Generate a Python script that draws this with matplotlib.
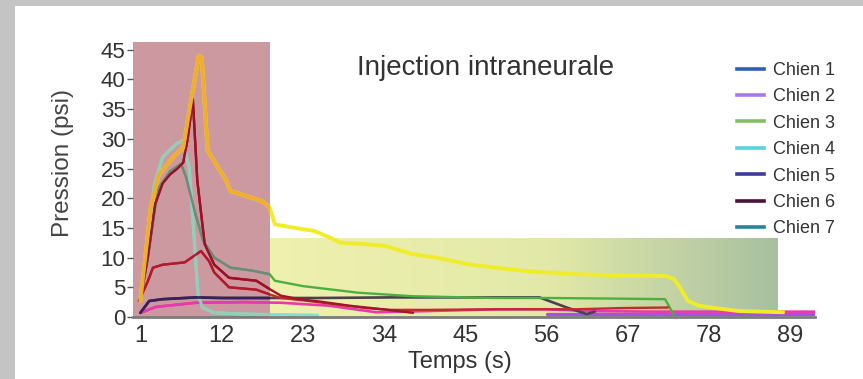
import matplotlib
matplotlib.use("Agg")
import matplotlib.pyplot as plt
import numpy as np
from matplotlib.patches import Rectangle
from matplotlib.lines import Line2D
from matplotlib.colors import LinearSegmentedColormap

plt.rcParams['font.family'] = ['Liberation Sans', 'DejaVu Sans']

# ---------------- data ----------------
title = "Injection intraneurale"
x_label = "Temps (s)"
y_label = "Pression (psi)"
x_ticks = [1, 12, 23, 34, 45, 56, 67, 78, 89]
y_ticks = [0, 5, 10, 15, 20, 25, 30, 35, 40, 45]
legend_labels = ["Chien 1", "Chien 2", "Chien 3", "Chien 4", "Chien 5", "Chien 6", "Chien 7"]
legend_colors = ["#2f5fb0", "#a479ee", "#84c062", "#55d6de", "#3c3c9c", "#4c1238", "#23879a"]

# phase zones (s, psi)
phase1_end = 18.5
phase2_end = 87.2
phase2_top = 13.3

# Chien 1 (dark red spike)
t_c1 = [1, 2, 3, 4, 5, 6, 6.8, 7.4, 8.1, 8.7, 9.7, 11, 13, 16.7, 18.5, 20, 22.5, 25.3, 29.3, 33.8, 37.9]
p_c1 = [3, 10, 19, 22.5, 24, 25, 26, 30, 36.7, 23, 12.3, 8.8, 6.6, 6.1, 4.7, 3.6, 3.0, 2.6, 1.9, 1.3, 0.7]
# Chien 2 (magenta, low)
t_c2 = [1, 3.1, 8.5, 15, 20, 26.6, 30, 32.9, 40, 49, 56, 62, 70, 80, 92.3]
p_c2 = [0.7, 1.7, 2.4, 2.5, 2.4, 1.9, 1.3, 0.8, 1.0, 1.3, 1.3, 1.0, 0.9, 0.9, 0.9]
# Chien 2 tail (violet baseline)
t_c2b = [56, 70, 92.3]
p_c2b = [0.5, 0.5, 0.5]
# Chien 3 (grey -> green)
t_c3 = [1, 2, 3, 3.5, 5, 6.5, 7.2, 8.3, 9.5, 11, 13.2, 16.2, 18.5, 19.2, 23, 30.4, 37.8, 49, 56.4, 65, 72, 73.2]
p_c3 = [2.7, 10, 18.5, 21.8, 24.5, 25.8, 23.5, 18, 12.8, 10, 8.3, 7.8, 7.2, 6.1, 5.2, 4.1, 3.5, 3.2, 3.2, 3.1, 3.0, 0.4]
# Chien 4 (cyan)
t_c4 = [0.9, 2.2, 2.9, 4, 5.8, 6.7, 7.6, 8.3, 8.8, 9.4, 11, 15, 20, 25]
p_c4 = [2.7, 15, 22.4, 26.9, 29.1, 29.7, 25.2, 12.8, 3.8, 1.6, 0.7, 0.5, 0.4, 0.3]
# Chien 5 (dark purple, ~3 psi)
t_c5 = [1, 2.2, 4, 8.5, 12, 17.5, 25, 35, 45, 55, 58.7, 61.4, 62.5]
p_c5 = [0.7, 2.7, 3.0, 3.3, 3.2, 3.2, 3.2, 3.3, 3.3, 3.3, 1.6, 0.5, 0.9]
# Chien 6 (red plateau)
t_c6 = [0.8, 2, 2.7, 4, 7, 9.2, 10.3, 11, 13, 16.7, 18.5, 20, 23, 27, 31.6, 34.7, 40, 50, 60, 66, 72.4]
p_c6 = [2.7, 6, 8.3, 8.8, 9.2, 11.1, 9.4, 7.5, 5.0, 4.6, 3.8, 3.2, 2.8, 2.2, 1.5, 1.2, 1.2, 1.3, 1.3, 1.5, 1.6]
# Chien 7 (yellow, peak 44)
t_c7 = [1, 2.4, 3.5, 5.8, 6.8, 7.8, 8.9, 9.3, 10.1, 12.6, 13.2, 15, 16.2, 17.5, 18.5, 19.2, 21, 22.9, 24.5,
        26.6, 28.1, 31, 34, 37.8, 41, 45.3, 49, 52.7, 56, 60.2, 66, 72.1, 73.2, 74, 75.1, 76.6, 78.8, 82, 88]
p_c7 = [2.7, 18.4, 24, 27.4, 28.5, 36, 44, 43.7, 28, 23, 21.2, 20.5, 20, 19.5, 18.4, 15.6, 15.2, 14.8, 14.5,
        13.4, 12.5, 12.3, 12, 10.6, 10, 8.9, 8.3, 7.8, 7.5, 7.2, 7, 6.9, 6.4, 5, 2.7, 1.9, 1.5, 1.0, 0.8]

# (t, p, colour outside phase 1, colour inside phase 1, width)
series = [
    (t_c2b, p_c2b, "#a452e2", "#a452e2", 2.4),
    (t_c2, p_c2, "#e83aa8", "#e83aa8", 1.9),
    (t_c4, p_c4, "#7ee2cc", "#96ccb8", 2.2),
    (t_c5, p_c5, "#4a4050", "#3a1f58", 1.9),
    (t_c3, p_c3, "#4cb040", "#6e8a7c", 1.7),
    (t_c6, p_c6, "#c52a2c", "#b3182e", 1.7),
    (t_c1, p_c1, "#a01828", "#9a1024", 1.7),
    (t_c7, p_c7, "#f0ec2a", "#f0ae2e", 2.8),
]

# ---------------- figure ----------------
W, H = 863, 379
fig = plt.figure(figsize=(W / 100, H / 100), dpi=100)
fig.patch.set_facecolor("#c4c4c4")
fig.add_artist(Rectangle((15 / W, 0), 1, 1 - 6 / H, transform=fig.transFigure,
                         facecolor="white", edgecolor="none", zorder=-5))

ax = fig.add_axes([133 / W, 1 - 317 / H, (815 - 133) / W, (317 - 42) / H])
ax.set_facecolor("none")
xmin, xmax = 0, 92.3
ymin, ymax = 0, 46.3

pink = Rectangle((xmin, ymin), phase1_end - xmin, ymax - ymin, facecolor="#cc99a0",
                 edgecolor="none", zorder=0.5)
ax.add_patch(pink)

cmap = LinearSegmentedColormap.from_list("phase2", [(0, "#eff1ae"), (0.55, "#e2e9a8"), (1.0, "#a8c0a0")])
grad = np.linspace(0, 1, 256).reshape(1, -1)
ax.imshow(grad, cmap=cmap, extent=[phase1_end, phase2_end, 0, phase2_top], aspect="auto",
          zorder=0.5, interpolation="bilinear")

for t, p, c_out, c_in, lw in series:
    ax.plot(t, p, color=c_out, lw=lw, zorder=2, solid_capstyle="round")
    ln, = ax.plot(t, p, color=c_in, lw=lw, zorder=2.1, solid_capstyle="round")
    ln.set_clip_path(pink)

ax.set_xlim(xmin, xmax)
ax.set_ylim(ymin, ymax)
ax.set_xticks(x_ticks)
ax.set_yticks(y_ticks)
for s in ["top", "right", "left"]:
    ax.spines[s].set_visible(False)
ax.spines["bottom"].set_color("#7c7c7c")
ax.spines["bottom"].set_linewidth(2.0)
ax.spines["bottom"].set_zorder(3)
ax.tick_params(axis="x", length=0, pad=6, labelsize=17, labelcolor="#333333")
ax.tick_params(axis="y", length=4.5, width=1, pad=1, color="#555555", labelsize=16, labelcolor="#333333")

fig.text(486 / W, 1 - 68 / H, title, ha="center", va="center", fontsize=20, color="#333333")
fig.text(63 / W, 1 - 163 / H, y_label, ha="center", va="center", rotation=90, fontsize=17.5,
         color="#444444")
fig.text(460 / W, 1 - 362 / H, x_label, ha="center", va="center", fontsize=17, color="#333333")

handles = [Line2D([0], [0], color=c, lw=2.6) for c in legend_colors]
ax.legend(handles, legend_labels, loc="upper left", bbox_to_anchor=((737 - 133) / (815 - 133), (317 - 62) / (317 - 42)),
          frameon=False, fontsize=13, handlelength=1.5, handletextpad=0.5, labelspacing=0.52,
          borderaxespad=0, borderpad=0, labelcolor="#333333")

fig.savefig("out.png", dpi=100, facecolor=fig.get_facecolor())
